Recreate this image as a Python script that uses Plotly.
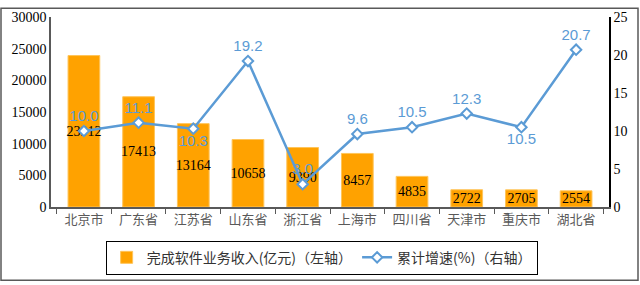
import plotly.graph_objects as go

categories = ["北京市", "广东省", "江苏省", "山东省", "浙江省", "上海市", "四川省", "天津市", "重庆市", "湖北省"]
revenue = [23912, 17413, 13164, 10658, 9390, 8457, 4835, 2722, 2705, 2554]
growth = [10.0, 11.1, 10.3, 19.2, 3.0, 9.6, 10.5, 12.3, 10.5, 20.7]
growth_pos = ["top center", "top center", "bottom center", "top center", "top center",
              "top center", "top center", "top center", "bottom center", "top center"]
left_ticks = [0, 5000, 10000, 15000, 20000, 25000, 30000]
left_ticktext = ["0", "5000", "10000", "15000", "20000", "25000", "30000"]
right_ticks = [0, 5, 10, 15, 20, 25]

fig = go.Figure()
fig.add_trace(go.Bar(
    x=categories, y=revenue, name="完成软件业务收入(亿元)（左轴）",
    marker=dict(color="#FFA200", line=dict(color="#FFC55A", width=1)),
    text=[str(v) for v in revenue], textposition="inside", insidetextanchor="middle",
    textangle=0, constraintext="none",
    textfont=dict(family="Liberation Serif, Noto Sans CJK SC", size=14, color="#000000"),
    yaxis="y",
))
fig.add_trace(go.Scatter(
    x=categories, y=growth, name="累计增速(%)（右轴）", mode="lines+markers+text",
    line=dict(color="#5B9BD5", width=2.5),
    marker=dict(symbol="diamond", size=8, color="#FFFFFF", line=dict(color="#5B9BD5", width=2)),
    text=[f"{v:.1f}" for v in growth], textposition=growth_pos,
    textfont=dict(family="Liberation Sans, Noto Sans CJK SC", size=15, color="#5B9BD5"),
    yaxis="y2",
))

W, H = 640, 285
l, r, t, b = 51, 31, 10, 78
pw, ph = W - l - r, H - t - b

def px(x):
    return (x - l) / pw

def py(y):
    return (H - b - y) / ph

fig.add_shape(type="rect", xref="paper", yref="paper",
              x0=px(1), x1=px(638), y0=py(283), y1=py(1),
              line=dict(color="#595959", width=1.5), layer="below")

fig.update_layout(
    width=W, height=H, margin=dict(l=l, r=r, t=t, b=b),
    paper_bgcolor="white", plot_bgcolor="white",
    bargap=0.42, showlegend=True,
    font=dict(family="Liberation Serif, Noto Sans CJK SC", size=13, color="#000000"),
    xaxis=dict(type="category", showline=True, linecolor="#595959", linewidth=1.5,
               ticks="outside", tickson="boundaries", ticklen=5, tickcolor="#595959",
               tickfont=dict(family="Noto Sans CJK SC", size=13, color="#595959")),
    yaxis=dict(range=[0, 30000], tickvals=left_ticks, ticktext=left_ticktext,
               showgrid=False, zeroline=False,
               showline=True, linecolor="#595959", linewidth=1.5,
               tickfont=dict(family="Liberation Serif", size=14, color="#000000")),
    yaxis2=dict(range=[0, 25], tickvals=right_ticks, overlaying="y", side="right",
                showgrid=False, zeroline=False, showline=True, linecolor="#000000", linewidth=1.5,
                tickfont=dict(family="Liberation Serif", size=14, color="#000000")),
    legend=dict(orientation="h", x=0.485, xanchor="center", y=py(242), yanchor="top",
                bordercolor="#000000", borderwidth=1, bgcolor="white",
                font=dict(family="Noto Sans CJK SC", size=14, color="#333333"),
                itemwidth=30, tracegroupgap=0),
)

fig.write_html("out.html")
